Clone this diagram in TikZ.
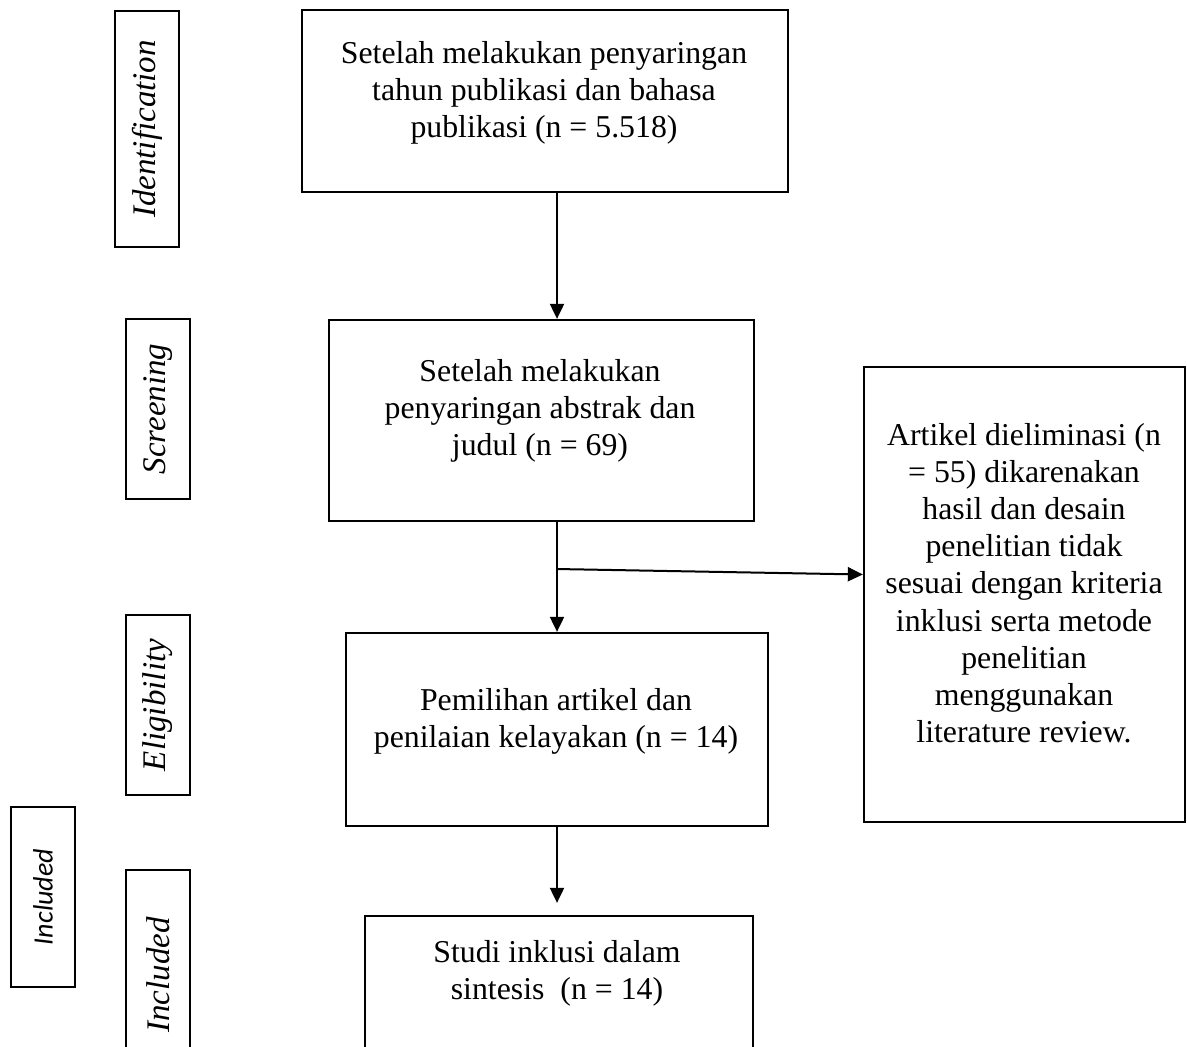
\documentclass[tikz,border=0pt]{standalone}
\usepackage{fontspec}
\setmainfont{Liberation Serif}
\newfontfamily\calibrifont{Carlito}
\usetikzlibrary{arrows.meta}

\begin{document}
\begin{tikzpicture}[x=0.5pt, y=-0.5pt,
    box/.style={draw=black, line width=1.15pt, inner sep=0pt},
    txt/.style={align=center, inner sep=0pt, font=\fontsize{15.9}{18.6}\selectfont},
    phase/.style={draw=black, line width=1.15pt, rotate=90, minimum height=32pt, inner sep=0pt, font=\fontsize{16.5}{20}\selectfont\itshape},
    arr/.style={line width=1pt, -{Triangle[length=7.5pt,width=7pt]}}]
\useasboundingbox (0,0) rectangle (1187,1046);
\node[box, minimum width=243pt, minimum height=91pt] (idn) at (545,101) {};
\node[txt] (idntxt) at (544,93) {Setelah melakukan penyaringan\\tahun publikasi dan bahasa\\publikasi (n = 5.518)};
\node[box, minimum width=212.5pt, minimum height=100.5pt] (scr) at (541.5,420.5) {};
\node[txt] (scrtxt) at (540,411) {Setelah melakukan\\penyaringan abstrak dan\\judul (n = 69)};
\node[box, minimum width=211pt, minimum height=96.5pt] (elg) at (557,729.5) {};
\node[txt] (elgtxt) at (556,721) {Pemilihan artikel dan\\penilaian kelayakan (n = 14)};
\node[box, minimum width=194pt, minimum height=82pt] (inc) at (559,998) {};
\node[txt] (inctxt) at (557,973) {Studi inklusi dalam\\sintesis\ \ (n = 14)};
\node[box, minimum width=160.5pt, minimum height=227.5pt] (exc) at (1024.5,594.5) {};
\node[txt] (exctxt) at (1024,583) {Artikel dieliminasi (n\\= 55) dikarenakan\\hasil dan desain\\penelitian tidak\\sesuai dengan kriteria\\inklusi serta metode\\penelitian\\menggunakan\\literature review.};
\node[phase, minimum width=118pt] (pidn) at (147,129) {Identification};
\node[phase, minimum width=90pt] (pscr) at (158,409) {Screening};
\node[phase, minimum width=90pt] (pelg) at (158,705) {Eligibility};
\node[phase, minimum width=105pt] (pinc) at (158,975) {Included};
\node[phase, minimum width=90pt, font=\calibrifont\fontsize{14}{16}\selectfont\itshape] (pincb) at (43,897) {Included};
\coordinate (split) at (557,569);
\draw[arr] (idn.south -| split) -- (scr.north -| split);
\draw[arr] (scr.south -| split) -- (elg.north -| split);
\draw[arr] (split) -- ([yshift=10pt]exc.west);
\draw[arr, shorten >=6pt] (elg.south -| split) -- (inc.north -| split);
\end{tikzpicture}
\end{document}
